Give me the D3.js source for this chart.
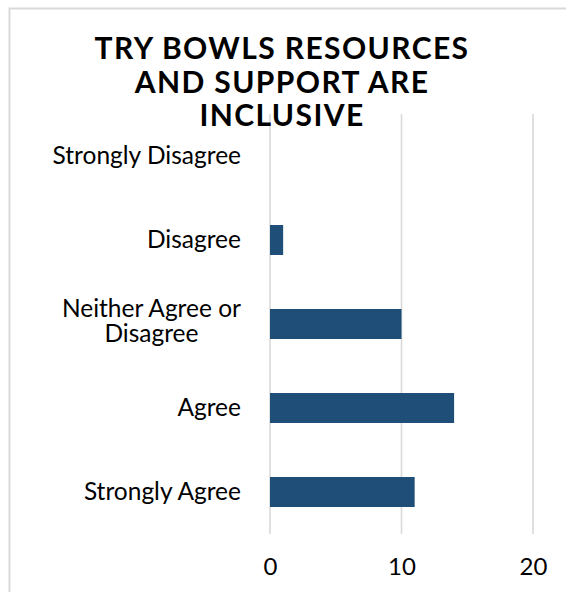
<!DOCTYPE html>
<html>
<head>
<meta charset="utf-8">
<script src="https://cdn.jsdelivr.net/npm/d3@7"></script>
<style>
  html, body { margin: 0; padding: 0; background: #fff; }
  svg { display: block; }
</style>
</head>
<body>
<script>
const titleLines = ["TRY BOWLS RESOURCES", "AND SUPPORT ARE", "INCLUSIVE"];
const categories = ["Strongly Disagree", "Disagree", "Neither Agree or Disagree", "Agree", "Strongly Agree"];
const values = [0, 1, 10, 14, 11];
const xTicks = [0, 10, 20];

const W = 566, H = 592;
const svg = d3.select("body").append("svg").attr("width", W).attr("height", H);

// chart border (extends past the right/bottom edges)
svg.append("rect")
  .attr("x", 9.5).attr("y", 8.5).attr("width", 620).attr("height", 620)
  .attr("fill", "none").attr("stroke", "#d9d9d9").attr("stroke-width", 2);

const plot = { left: 270, right: 533, top: 114, bottom: 534 };

const x = d3.scaleLinear().domain([0, 20]).range([plot.left, plot.right]);
const y = d3.scaleBand().domain(categories).range([plot.top, plot.bottom]).paddingInner(0.643).paddingOuter(0.3215);

const font = "Lato, 'Gill Sans', 'Noto Sans', sans-serif";

// gridlines
svg.append("g").selectAll("line").data(xTicks).join("line")
  .attr("x1", d => x(d)).attr("x2", d => x(d))
  .attr("y1", plot.top).attr("y2", plot.bottom)
  .attr("stroke", "#d9d9d9").attr("stroke-width", 1.6);

// bars
svg.append("g").selectAll("rect").data(categories).join("rect")
  .attr("x", x(0))
  .attr("y", d => y(d))
  .attr("width", (d, i) => x(values[i]) - x(0))
  .attr("height", y.bandwidth())
  .attr("fill", "#1f4e79");

// x axis labels
const xAxis = d3.axisBottom(x).tickValues(xTicks).tickSize(0).tickPadding(0).tickFormat(d3.format("d"));
const gx = svg.append("g").attr("transform", `translate(0,${plot.bottom})`).call(xAxis);
gx.select(".domain").remove();
gx.selectAll("text")
  .attr("dy", null).attr("y", 41)
  .style("font-family", font).style("font-size", "24px").attr("fill", "#000");

// category labels
const labelRight = 241;
const wrapMap = { "Neither Agree or Disagree": ["Neither Agree or", "Disagree"] };
const lg = svg.append("g");
categories.forEach(c => {
  const lines = wrapMap[c] || [c];
  const cy = y(c) + y.bandwidth() / 2;
  const t = lg.append("text")
    .style("font-family", font).style("font-size", "24.5px").attr("fill", "#000");
  const lh = 24.5;
  lines.forEach((ln, i) => {
    t.append("tspan").text(ln)
      .attr("y", cy + (i - (lines.length - 1) / 2) * lh)
      .attr("dy", lines.length > 1 ? "0.22em" : "0.33em");
  });
  if (lines.length === 1) {
    t.attr("text-anchor", "end").selectAll("tspan").attr("x", labelRight);
  } else {
    const widths = [];
    t.selectAll("tspan").each(function() { widths.push(this.getComputedTextLength()); });
    const maxW = d3.max(widths);
    t.attr("text-anchor", "middle").selectAll("tspan").attr("x", labelRight - maxW / 2);
  }
});

// title
const tt = svg.append("text")
  .attr("text-anchor", "middle")
  .style("font-family", font).style("font-weight", "bold").style("font-size", "30px")
  .style("letter-spacing", "1.4px")
  .attr("fill", "#000");
titleLines.forEach((ln, i) => {
  tt.append("tspan").text(ln).attr("x", 282).attr("y", 59 + i * 33.5);
});
</script>
</body>
</html>
